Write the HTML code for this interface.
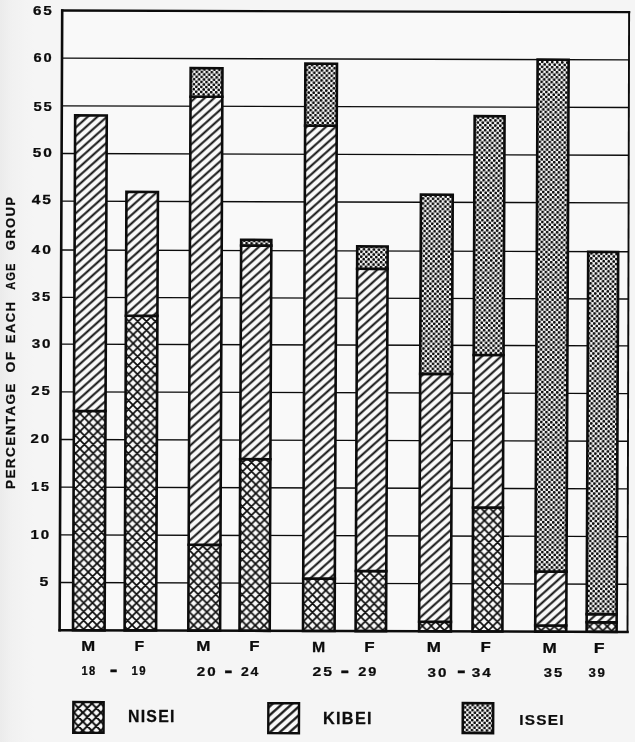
<!DOCTYPE html>
<html lang="en"><head><meta charset="utf-8"><title>Percentage of each age group</title>
<style>
html,body{margin:0;padding:0;background:#f5f5f5;}
body{width:635px;height:742px;overflow:hidden;}
svg{display:block;filter:blur(0.35px);}
text{font-family:"Liberation Sans",sans-serif;font-weight:bold;fill:#0c0c0c;stroke:#0c0c0c;stroke-width:0.25px;stroke-linejoin:round;}
</style></head><body>
<svg width="635" height="742" viewBox="0 0 635 742">
<defs>
<pattern id="nisei" width="8.8" height="8.8" patternUnits="userSpaceOnUse">
<rect width="8.8" height="8.8" fill="#f9f9f9"/>
<path d="M-1,-1 L9.8,9.8 M-1,7.8 L1,9.8 M7.8,-1 L9.8,1 M-1,9.8 L9.8,-1 M-1,1 L1,-1 M7.8,9.8 L9.8,7.8" stroke="#0c0c0c" stroke-width="1.7" fill="none"/>
</pattern>
<pattern id="niseiS" width="9" height="9" patternUnits="userSpaceOnUse" patternTransform="translate(2.2 1.5)">
<rect width="9" height="9" fill="#f9f9f9"/>
<path d="M-1,-1 L10,10 M-1,8 L1,10 M8,-1 L10,1 M-1,10 L10,-1 M-1,1 L1,-1 M8,10 L10,8" stroke="#0c0c0c" stroke-width="2" fill="none"/>
</pattern>
<pattern id="kibeiS" width="20" height="6.5" patternUnits="userSpaceOnUse" patternTransform="rotate(-42)">
<rect width="20" height="6.5" fill="#f9f9f9"/>
<rect y="2.1" width="20" height="2.2" fill="#0c0c0c"/>
</pattern>
<pattern id="kibei" width="20" height="6.4" patternUnits="userSpaceOnUse" patternTransform="rotate(-42)">
<rect width="20" height="6.4" fill="#f9f9f9"/>
<rect y="2.2" width="20" height="1.95" fill="#0c0c0c"/>
</pattern>
<pattern id="issei" width="5" height="5" patternUnits="userSpaceOnUse" patternTransform="rotate(1.5)">
<rect width="5" height="5" fill="#f9f9f9"/>
<circle cx="1.25" cy="1.25" r="1.4" fill="#0c0c0c"/>
<circle cx="3.75" cy="3.75" r="1.4" fill="#0c0c0c"/>
</pattern>
<linearGradient id="edge" x1="0" x2="1" y1="0" y2="0"><stop offset="0" stop-color="#ebebeb"/><stop offset="0.35" stop-color="#f1f1f1"/><stop offset="1" stop-color="#f5f5f5"/></linearGradient>
</defs>
<rect width="635" height="742" fill="#f5f5f5"/>
<rect width="34" height="742" fill="url(#edge)"/>
<g transform="matrix(1 0.003 -0.0042 1 2.65 -0.18)">

<path d="M59.6,630.2 L59.6,10.5 L626.5,10.5 L627.5,630.2 Z" fill="#f9f9f9"/>
<line x1="59.6" x2="627.42" y1="582.53" y2="582.53" stroke="#0c0c0c" stroke-width="1.35"/>
<line x1="59.6" x2="627.35" y1="534.86" y2="534.86" stroke="#0c0c0c" stroke-width="1.35"/>
<line x1="59.6" x2="627.27" y1="487.19" y2="487.19" stroke="#0c0c0c" stroke-width="1.35"/>
<line x1="59.6" x2="627.19" y1="439.52" y2="439.52" stroke="#0c0c0c" stroke-width="1.35"/>
<line x1="59.6" x2="627.12" y1="391.85" y2="391.85" stroke="#0c0c0c" stroke-width="1.35"/>
<line x1="59.6" x2="627.04" y1="344.18" y2="344.18" stroke="#0c0c0c" stroke-width="1.35"/>
<line x1="59.6" x2="626.96" y1="297.32" y2="297.32" stroke="#0c0c0c" stroke-width="1.35"/>
<line x1="59.6" x2="626.88" y1="250.05" y2="250.05" stroke="#0c0c0c" stroke-width="1.35"/>
<line x1="59.6" x2="626.81" y1="201.18" y2="201.18" stroke="#0c0c0c" stroke-width="1.35"/>
<line x1="59.6" x2="626.73" y1="153.51" y2="153.51" stroke="#0c0c0c" stroke-width="1.35"/>
<line x1="59.6" x2="626.65" y1="105.84" y2="105.84" stroke="#0c0c0c" stroke-width="1.35"/>
<line x1="59.6" x2="626.58" y1="58.17" y2="58.17" stroke="#0c0c0c" stroke-width="1.35"/>
<rect x="73" y="410.92" width="31.6" height="219.28" fill="url(#nisei)" stroke="#0c0c0c" stroke-width="2.6"/>
<rect x="73" y="115.37" width="31.6" height="295.55" fill="url(#kibei)" stroke="#0c0c0c" stroke-width="2.6"/>
<rect x="124.6" y="315.58" width="31.5" height="314.62" fill="url(#nisei)" stroke="#0c0c0c" stroke-width="2.6"/>
<rect x="124.6" y="191.64" width="31.5" height="123.94" fill="url(#kibei)" stroke="#0c0c0c" stroke-width="2.6"/>
<rect x="188.3" y="544.4" width="31.8" height="85.8" fill="url(#nisei)" stroke="#0c0c0c" stroke-width="2.6"/>
<rect x="188.3" y="96.3" width="31.8" height="448.09" fill="url(#kibei)" stroke="#0c0c0c" stroke-width="2.6"/>
<rect x="188.3" y="67.7" width="31.8" height="28.6" fill="url(#issei)" stroke="#0c0c0c" stroke-width="2.6"/>
<rect x="239.5" y="458.59" width="30.2" height="171.61" fill="url(#nisei)" stroke="#0c0c0c" stroke-width="2.6"/>
<rect x="239.5" y="245.03" width="30.2" height="213.56" fill="url(#kibei)" stroke="#0c0c0c" stroke-width="2.6"/>
<rect x="239.5" y="239.31" width="30.2" height="5.72" fill="url(#issei)" stroke="#0c0c0c" stroke-width="2.6"/>
<rect x="303" y="577.76" width="31.6" height="52.44" fill="url(#nisei)" stroke="#0c0c0c" stroke-width="2.6"/>
<rect x="303" y="124.91" width="31.6" height="452.86" fill="url(#kibei)" stroke="#0c0c0c" stroke-width="2.6"/>
<rect x="303" y="62.94" width="31.6" height="61.97" fill="url(#issei)" stroke="#0c0c0c" stroke-width="2.6"/>
<rect x="355.6" y="570.14" width="30.45" height="60.06" fill="url(#nisei)" stroke="#0c0c0c" stroke-width="2.6"/>
<rect x="355.6" y="267.91" width="30.45" height="302.22" fill="url(#kibei)" stroke="#0c0c0c" stroke-width="2.6"/>
<rect x="355.6" y="245.51" width="30.45" height="22.4" fill="url(#issei)" stroke="#0c0c0c" stroke-width="2.6"/>
<rect x="419.1" y="620.67" width="31.8" height="9.53" fill="url(#nisei)" stroke="#0c0c0c" stroke-width="2.6"/>
<rect x="419.1" y="372.79" width="31.8" height="247.88" fill="url(#kibei)" stroke="#0c0c0c" stroke-width="2.6"/>
<rect x="419.1" y="193.55" width="31.8" height="179.24" fill="url(#issei)" stroke="#0c0c0c" stroke-width="2.6"/>
<rect x="472.5" y="506.26" width="29.9" height="123.94" fill="url(#nisei)" stroke="#0c0c0c" stroke-width="2.6"/>
<rect x="472.5" y="353.72" width="29.9" height="152.54" fill="url(#kibei)" stroke="#0c0c0c" stroke-width="2.6"/>
<rect x="472.5" y="114.9" width="29.9" height="238.82" fill="url(#issei)" stroke="#0c0c0c" stroke-width="2.6"/>
<rect x="535.2" y="624" width="31.05" height="6.2" fill="url(#nisei)" stroke="#0c0c0c" stroke-width="2.6"/>
<rect x="535.2" y="570.14" width="31.05" height="53.87" fill="url(#kibei)" stroke="#0c0c0c" stroke-width="2.6"/>
<rect x="535.2" y="58.17" width="31.05" height="511.97" fill="url(#issei)" stroke="#0c0c0c" stroke-width="2.6"/>
<rect x="586.6" y="620.67" width="30" height="9.53" fill="url(#nisei)" stroke="#0c0c0c" stroke-width="2.6"/>
<rect x="586.6" y="612.56" width="30" height="8.1" fill="url(#kibei)" stroke="#0c0c0c" stroke-width="2.6"/>
<rect x="586.6" y="250.28" width="30" height="362.29" fill="url(#issei)" stroke="#0c0c0c" stroke-width="2.6"/>
<path d="M59.6,630.2 L59.6,10.5" stroke="#0c0c0c" stroke-width="2.6" stroke-linecap="square" fill="none"/>
<path d="M59.6,10.5 L626.5,10.5" stroke="#0c0c0c" stroke-width="2.3" stroke-linecap="square" fill="none"/>
<path d="M626.5,10.5 L627.5,630.2" stroke="#0c0c0c" stroke-width="1.9" stroke-linecap="square" fill="none"/>
<path d="M59.6,630.2 L627.5,630.2" stroke="#0c0c0c" stroke-width="2.5" stroke-linecap="square" fill="none"/>
<rect x="73.66" y="702.0" width="30.3" height="30.7" fill="url(#niseiS)" stroke="#0c0c0c" stroke-width="2.4"/>
<rect x="268.66" y="702.6" width="30.7" height="29.9" fill="url(#kibeiS)" stroke="#0c0c0c" stroke-width="2.4"/>
<rect x="463.16" y="701.94" width="30.3" height="29.9" fill="url(#issei)" stroke="#0c0c0c" stroke-width="2.6"/>
</g>
<text transform="translate(32.88 15.10) scale(1.216 0.978)" font-size="12.57" letter-spacing="0.13em">65</text>
<text transform="translate(33.42 62.48) scale(1.155 0.987)" font-size="12.71" letter-spacing="0.13em">60</text>
<text transform="translate(33.38 110.78) scale(1.158 0.996)" font-size="12.85" letter-spacing="0.13em">55</text>
<text transform="translate(32.67 157.25) scale(1.244 0.969)" font-size="12.43" letter-spacing="0.13em">50</text>
<text transform="translate(31.63 204.45) scale(1.241 1.000)" font-size="12.57" letter-spacing="0.13em">45</text>
<text transform="translate(31.52 253.62) scale(1.214 0.975)" font-size="12.85" letter-spacing="0.13em">40</text>
<text transform="translate(31.80 300.77) scale(1.160 0.975)" font-size="12.85" letter-spacing="0.13em">35</text>
<text transform="translate(31.67 348.25) scale(1.158 0.971)" font-size="13.13" letter-spacing="0.13em">30</text>
<text transform="translate(31.20 395.27) scale(1.170 0.975)" font-size="12.85" letter-spacing="0.13em">25</text>
<text transform="translate(30.43 443.40) scale(1.148 0.971)" font-size="13.13" letter-spacing="0.13em">20</text>
<text transform="translate(31.03 491.00) scale(1.133 0.987)" font-size="12.71" letter-spacing="0.13em">15</text>
<text transform="translate(30.40 539.07) scale(1.173 0.975)" font-size="12.85" letter-spacing="0.13em">10</text>
<text transform="translate(39.57 586.48) scale(1.214 0.992)" font-size="13.13" letter-spacing="0em">5</text>
<text transform="translate(81.22 650.75) scale(1.197 1.000)" font-size="13.97" letter-spacing="0em">M</text>
<text transform="translate(134.55 650.75) scale(1.133 1.000)" font-size="13.97" letter-spacing="0em">F</text>
<text transform="translate(81.38 675.25) scale(0.890 0.978)" font-size="12.57" letter-spacing="0.13em">18</text>
<text transform="translate(109.65 676.15) scale(1.785 1.409)" font-size="13.00" letter-spacing="0em">-</text>
<text transform="translate(131.47 675.25) scale(0.908 0.978)" font-size="12.57" letter-spacing="0.13em">19</text>
<text transform="translate(196.25 651.25) scale(1.217 1.000)" font-size="13.97" letter-spacing="0em">M</text>
<text transform="translate(249.35 651.27) scale(1.183 0.996)" font-size="14.25" letter-spacing="0em">F</text>
<text transform="translate(196.77 675.95) scale(1.155 0.971)" font-size="13.13" letter-spacing="0.13em">20</text>
<text transform="translate(224.30 676.58) scale(1.900 1.451)" font-size="13.00" letter-spacing="0em">-</text>
<text transform="translate(240.95 675.95) scale(1.072 0.971)" font-size="13.13" letter-spacing="0.13em">24</text>
<text transform="translate(312.03 651.95) scale(1.084 1.000)" font-size="14.66" letter-spacing="0em">M</text>
<text transform="translate(364.35 651.95) scale(1.161 1.000)" font-size="14.66" letter-spacing="0em">F</text>
<text transform="translate(312.48 676.43) scale(1.216 0.983)" font-size="12.99" letter-spacing="0.13em">25</text>
<text transform="translate(340.45 676.65) scale(2.001 1.409)" font-size="13.00" letter-spacing="0em">-</text>
<text transform="translate(358.20 676.43) scale(1.124 0.983)" font-size="12.99" letter-spacing="0.13em">29</text>
<text transform="translate(426.70 652.17) scale(1.172 0.993)" font-size="14.53" letter-spacing="0em">M</text>
<text transform="translate(480.55 652.17) scale(1.162 0.993)" font-size="14.53" letter-spacing="0em">F</text>
<text transform="translate(427.57 676.62) scale(1.135 0.988)" font-size="13.41" letter-spacing="0.13em">30</text>
<text transform="translate(457.03 677.15) scale(1.994 1.484)" font-size="13.00" letter-spacing="0em">-</text>
<text transform="translate(471.80 676.62) scale(1.144 0.988)" font-size="13.41" letter-spacing="0.13em">34</text>
<text transform="translate(542.55 652.80) scale(1.124 0.993)" font-size="15.22" letter-spacing="0em">M</text>
<text transform="translate(593.75 652.63) scale(1.186 0.996)" font-size="14.94" letter-spacing="0em">F</text>
<text transform="translate(543.83 677.00) scale(1.097 0.976)" font-size="13.55" letter-spacing="0.13em">35</text>
<text transform="translate(588.50 677.00) scale(0.978 0.976)" font-size="13.55" letter-spacing="0.13em">39</text>
<text transform="translate(127.90 722.25) scale(0.989 1.000)" font-size="16.06" letter-spacing="0.08em">NISEI</text>
<text transform="translate(323.02 723.98) scale(1.049 1.008)" font-size="15.50" letter-spacing="0.08em">KIBEI</text>
<text transform="translate(519.17 724.50) scale(1.011 0.993)" font-size="15.22" letter-spacing="0.08em">ISSEI</text>
<text transform="translate(15.18 488.95) rotate(-90) scale(1.068 0.987)" font-size="12.71" letter-spacing="0.1em">PERCENTAGE</text>
<text transform="translate(15.18 372.55) rotate(-90) scale(1.108 0.987)" font-size="12.71" letter-spacing="0.1em">OF</text>
<text transform="translate(15.18 343.15) rotate(-90) scale(1.030 0.987)" font-size="12.71" letter-spacing="0.1em">EACH</text>
<text transform="translate(15.18 289.85) rotate(-90) scale(0.878 0.987)" font-size="12.71" letter-spacing="0.1em">AGE</text>
<text transform="translate(15.18 250.13) rotate(-90) scale(1.028 0.987)" font-size="12.71" letter-spacing="0.1em">GROUP</text>
</svg></body></html>
